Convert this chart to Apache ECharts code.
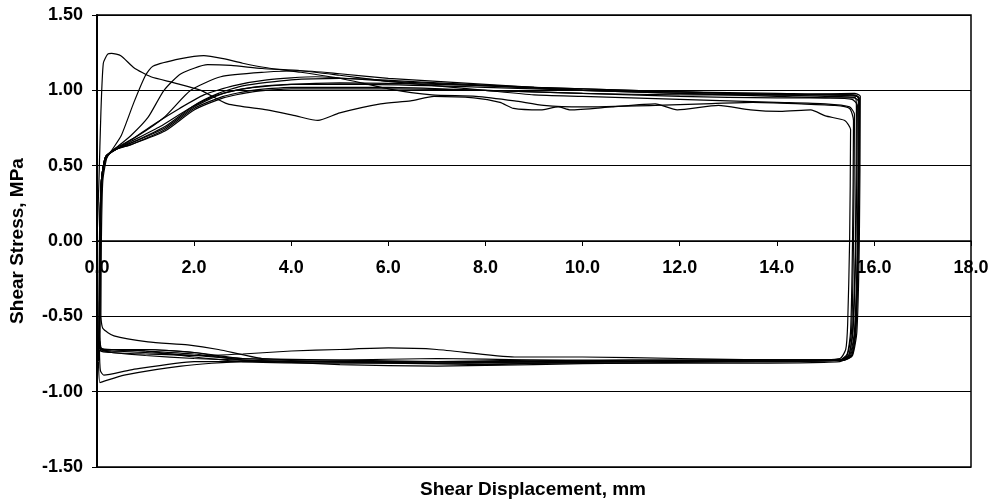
<!DOCTYPE html>
<html>
<head>
<meta charset="utf-8">
<script src="https://cdn.jsdelivr.net/npm/echarts@6/dist/echarts.min.js"></script>
<style>
html, body { margin: 0; padding: 0; background: #fff; }
#main { width: 995px; height: 504px; }
</style>
</head>
<body>
<div id="main"></div>
<script>
// tick labels
var xLabels = ['0.0', '2.0', '4.0', '6.0', '8.0', '10.0', '12.0', '14.0', '16.0', '18.0'];
var yLabels = ['-1.50', '-1.00', '-0.50', '0.00', '0.50', '1.00', '1.50'];

// each cycle: [displacement mm, stress MPa]
var cycle1 = [[0.00,0.00],[0.04,0.40],[0.08,0.85],[0.13,1.18],[0.22,1.24],[0.30,1.245],[0.49,1.23],[0.76,1.15],[1.11,1.09],[1.59,1.05],[2.14,1.00],[2.69,0.91],[3.50,0.87],[4.10,0.83],[4.55,0.80],[5.00,0.85],[5.84,0.91],[6.46,0.93],[6.94,0.96],[7.76,0.95],[8.30,0.92],[8.58,0.88],[9.14,0.87],[9.50,0.89],[9.75,0.87],[10.60,0.89],[11.50,0.91],[11.95,0.87],[12.80,0.90],[13.46,0.87],[14.07,0.86],[14.70,0.87],[15.00,0.83],[15.40,0.80],[15.52,0.74],[15.50,0.00],[15.46,-0.55],[15.42,-0.72],[15.30,-0.78],[14.50,-0.79],[13.00,-0.79],[11.00,-0.80],[9.00,-0.81],[7.00,-0.80],[5.00,-0.80],[3.00,-0.80],[1.73,-0.83],[0.56,-0.89],[0.15,-0.93],[0.06,-0.94],[0.03,-0.80]];
var cycle2 = [[0.03,-0.80],[0.05,0.00],[0.08,0.35],[0.15,0.52],[0.30,0.60],[0.50,0.70],[0.76,0.92],[1.00,1.10],[1.15,1.16],[1.73,1.21],[2.20,1.23],[2.60,1.21],[3.00,1.18],[3.50,1.15],[4.20,1.12],[5.00,1.08],[6.00,1.01],[6.90,0.97],[7.80,0.96],[8.60,0.93],[9.20,0.90],[10.00,0.89],[11.50,0.90],[12.50,0.91],[13.50,0.92],[14.50,0.91],[15.20,0.90],[15.50,0.88],[15.58,0.80],[15.56,0.00],[15.52,-0.60],[15.45,-0.75],[15.30,-0.79],[14.00,-0.80],[12.00,-0.80],[10.00,-0.80],[8.00,-0.82],[6.00,-0.81],[4.00,-0.80],[3.00,-0.80],[2.00,-0.80],[0.70,-0.855],[0.14,-0.89],[0.07,-0.86],[0.05,-0.72]];
var cycle3 = [[0.05,-0.72],[0.07,0.00],[0.10,0.38],[0.18,0.55],[0.40,0.62],[0.70,0.70],[1.05,0.82],[1.38,1.00],[1.73,1.11],[2.28,1.17],[2.76,1.165],[3.40,1.145],[4.20,1.13],[5.00,1.10],[6.00,1.06],[7.00,1.03],[8.00,1.00],[9.00,0.97],[10.00,0.96],[11.00,0.95],[12.00,0.94],[13.00,0.93],[14.00,0.92],[15.00,0.91],[15.50,0.89],[15.60,0.84],[15.58,0.00],[15.54,-0.60],[15.45,-0.76],[15.30,-0.79],[13.00,-0.79],[11.00,-0.80],[9.00,-0.79],[7.00,-0.78],[5.00,-0.79],[3.40,-0.78],[2.50,-0.72],[1.87,-0.69],[1.05,-0.67],[0.35,-0.63],[0.12,-0.58],[0.08,-0.50]];
var cycle4 = [[0.08,-0.50],[0.09,0.00],[0.12,0.40],[0.22,0.57],[0.40,0.62],[0.80,0.69],[1.38,0.82],[1.93,1.00],[2.55,1.09],[3.44,1.12],[4.20,1.13],[5.00,1.11],[6.00,1.08],[7.00,1.06],[8.00,1.04],[9.00,1.02],[10.00,1.00],[11.00,0.99],[12.00,0.98],[13.00,0.97],[14.00,0.96],[15.00,0.95],[15.55,0.94],[15.66,0.90],[15.63,0.00],[15.57,-0.60],[15.48,-0.76],[15.30,-0.79],[14.00,-0.79],[12.00,-0.78],[10.00,-0.77],[8.60,-0.77],[7.00,-0.72],[6.00,-0.71],[5.00,-0.72],[4.00,-0.73],[3.00,-0.75],[2.00,-0.76],[1.00,-0.75],[0.30,-0.74],[0.10,-0.72],[0.06,-0.66]];
var cycle5 = [[0.06,-0.66],[0.07,0.00],[0.10,0.40],[0.20,0.56],[0.40,0.61],[0.70,0.67],[1.20,0.78],[1.70,0.88],[2.20,0.97],[2.80,1.03],[3.50,1.07],[4.50,1.09],[6.00,1.06],[8.00,1.03],[10.00,1.00],[12.00,0.98],[14.00,0.97],[15.50,0.97],[15.68,0.95],[15.66,0.00],[15.60,-0.60],[15.50,-0.76],[15.30,-0.80],[13.00,-0.81],[11.00,-0.81],[9.00,-0.82],[7.00,-0.83],[5.00,-0.82],[3.00,-0.79],[2.00,-0.78],[1.00,-0.76],[0.30,-0.74],[0.08,-0.73],[0.05,-0.65]];
var cycle6 = [[0.05,-0.65],[0.06,0.00],[0.09,0.40],[0.18,0.56],[0.40,0.61],[0.70,0.66],[1.30,0.76],[1.90,0.88],[2.40,0.96],[3.00,1.01],[4.00,1.04],[5.00,1.05],[7.00,1.04],[9.00,1.02],[11.00,1.00],[13.00,0.98],[15.00,0.96],[15.62,0.95],[15.64,0.88],[15.62,0.00],[15.56,-0.60],[15.48,-0.76],[15.30,-0.79],[13.00,-0.80],[11.00,-0.81],[9.00,-0.81],[7.00,-0.81],[5.00,-0.81],[3.00,-0.80],[2.00,-0.77],[1.00,-0.73],[0.30,-0.72],[0.08,-0.72],[0.05,-0.62]];
var cycle7 = [[0.05,-0.62],[0.06,0.00],[0.09,0.40],[0.18,0.56],[0.40,0.61],[0.70,0.65],[1.40,0.75],[2.00,0.89],[2.60,0.98],[3.20,1.02],[4.00,1.04],[5.50,1.04],[8.00,1.02],[10.00,1.00],[12.00,0.99],[14.00,0.98],[15.60,0.97],[15.70,0.95],[15.67,0.00],[15.61,-0.60],[15.52,-0.76],[15.35,-0.79],[13.00,-0.79],[11.00,-0.80],[9.00,-0.80],[7.00,-0.81],[5.00,-0.80],[3.00,-0.79],[2.00,-0.74],[1.00,-0.72],[0.30,-0.73],[0.08,-0.73],[0.05,-0.63]];
var cycle8 = [[0.05,-0.63],[0.06,0.00],[0.09,0.40],[0.18,0.56],[0.40,0.61],[0.70,0.65],[1.40,0.76],[2.00,0.90],[2.50,0.98],[3.00,1.03],[4.00,1.07],[5.00,1.08],[7.00,1.05],[9.00,1.02],[11.00,1.00],[13.00,0.98],[15.00,0.97],[15.65,0.96],[15.70,0.93],[15.68,0.00],[15.62,-0.60],[15.54,-0.76],[15.37,-0.79],[13.00,-0.80],[11.00,-0.80],[9.00,-0.80],[7.00,-0.80],[5.00,-0.79],[3.00,-0.78],[2.00,-0.76],[1.00,-0.74],[0.30,-0.73],[0.08,-0.72],[0.05,-0.64]];
var cycle9 = [[0.05,-0.64],[0.06,0.00],[0.09,0.40],[0.18,0.56],[0.40,0.61],[0.70,0.64],[1.40,0.74],[2.00,0.88],[2.60,0.96],[3.20,1.00],[4.00,1.02],[6.00,1.02],[8.00,1.00],[10.00,0.98],[12.00,0.96],[14.00,0.95],[15.60,0.95],[15.70,0.92],[15.68,0.00],[15.63,-0.60],[15.55,-0.76],[15.38,-0.79],[13.00,-0.79],[11.00,-0.79],[9.00,-0.80],[7.00,-0.80],[5.00,-0.80],[3.00,-0.79],[2.00,-0.75],[1.00,-0.73],[0.30,-0.72],[0.08,-0.72],[0.05,-0.64]];
var cycle10 = [[0.05,-0.64],[0.06,0.00],[0.09,0.40],[0.18,0.56],[0.40,0.61],[0.70,0.64],[1.40,0.73],[2.00,0.87],[2.60,0.95],[3.20,0.99],[4.00,1.01],[6.00,1.01],[8.00,1.00],[10.00,0.98],[12.00,0.97],[14.00,0.97],[15.60,0.98],[15.72,0.96],[15.70,0.00],[15.65,-0.60],[15.56,-0.76],[15.40,-0.79],[13.00,-0.79],[11.00,-0.79],[9.00,-0.79],[7.00,-0.80],[5.00,-0.80],[3.00,-0.78],[2.00,-0.74],[1.00,-0.72],[0.30,-0.72],[0.08,-0.71],[0.05,-0.62]];

var cycles = [cycle1, cycle2, cycle3, cycle4, cycle5, cycle6, cycle7, cycle8, cycle9, cycle10];

var font = "'Liberation Sans', Arial, sans-serif";
var myChart = echarts.init(document.getElementById('main'));

var series = [];
for (var i = 0; i < cycles.length; i++) {
    series.push({
        type: 'line',
        data: cycles[i],
        showSymbol: false,
        smooth: 0.2,
        clip: true,
        lineStyle: { color: '#000', width: 1.2 }
    });
}

option = {
    animation: false,
    backgroundColor: '#fff',
    grid: {
        left: 96, right: 24, top: 15, bottom: 37,
        show: true, borderColor: '#000', borderWidth: 1.5
    },
    xAxis: {
        type: 'value',
        min: 0, max: 18, interval: 2,
        // axis drawn across the zero line of the stress axis
        offset: -226,
        axisLine: { onZero: false, lineStyle: { color: '#000', width: 1.5 } },
        axisTick: { show: true, inside: false, length: 5, lineStyle: { color: '#000' } },
        axisLabel: {
            margin: 18, color: '#000', fontFamily: font, fontWeight: 'bold', fontSize: 18,
            formatter: function (v) { return xLabels[Math.round(v / 2)]; }
        },
        splitLine: { show: false }
    },
    yAxis: {
        type: 'value',
        min: -1.5, max: 1.5, interval: 0.5,
        name: 'Shear Stress, MPa',
        nameLocation: 'middle',
        nameGap: 70,
        nameTextStyle: { color: '#000', fontFamily: font, fontWeight: 'bold', fontSize: 19 },
        axisLine: { onZero: false, lineStyle: { color: '#000', width: 2 } },
        axisTick: { show: true, length: 5, lineStyle: { color: '#000' } },
        axisLabel: {
            margin: 14, color: '#000', fontFamily: font, fontWeight: 'bold', fontSize: 18,
            formatter: function (v) { return yLabels[Math.round((v + 1.5) / 0.5)]; }
        },
        splitLine: { show: true, lineStyle: { color: '#000', width: 1 } }
    },
    graphic: [{
        type: 'text',
        x: 533, y: 490,
        style: {
            text: 'Shear Displacement, mm',
            fill: '#000',
            align: 'center',
            verticalAlign: 'middle',
            font: "bold 19px 'Liberation Sans', Arial, sans-serif"
        }
    }],
    series: series
};

myChart.setOption(option);
</script>
</body>
</html>
